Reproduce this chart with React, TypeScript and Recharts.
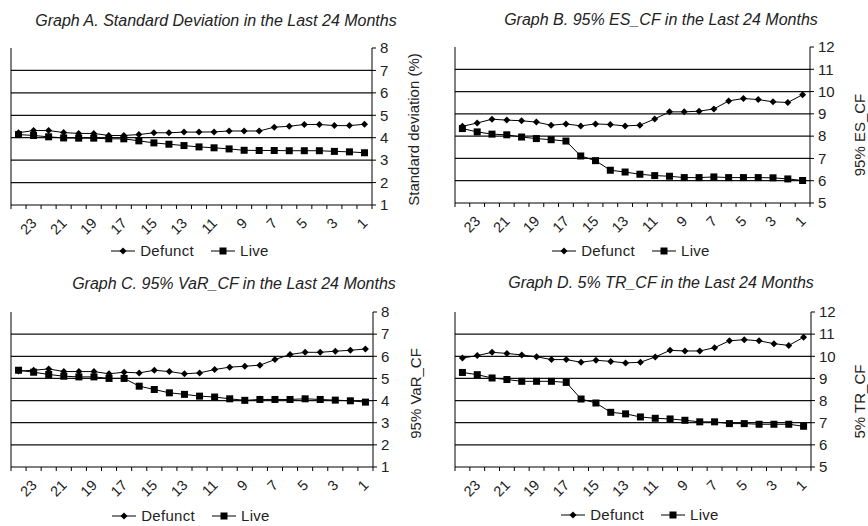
import React from 'react';
import { LineChart, Line, XAxis, YAxis, Legend, Label, ReferenceLine } from 'recharts';

// months counted back from the latest one
const months = ['24', '23', '22', '21', '20', '19', '18', '17', '16', '15', '14', '13', '12', '11', '10', '9', '8', '7', '6', '5', '4', '3', '2', '1'];

const sdDefunct = [4.22, 4.32, 4.32, 4.23, 4.19, 4.19, 4.1, 4.1, 4.14, 4.22, 4.22, 4.25, 4.25, 4.26, 4.3, 4.3, 4.3, 4.47, 4.51, 4.59, 4.59, 4.54, 4.54, 4.6];
const sdLive = [4.14, 4.1, 4.04, 3.99, 3.98, 3.98, 3.95, 3.95, 3.86, 3.77, 3.71, 3.65, 3.59, 3.55, 3.5, 3.44, 3.43, 3.43, 3.42, 3.42, 3.42, 3.39, 3.37, 3.33];

const esDefunct = [8.44, 8.59, 8.76, 8.72, 8.69, 8.63, 8.49, 8.55, 8.46, 8.55, 8.52, 8.46, 8.49, 8.77, 9.09, 9.09, 9.12, 9.22, 9.58, 9.69, 9.64, 9.54, 9.51, 9.86];
const esLive = [8.34, 8.19, 8.09, 8.06, 7.96, 7.89, 7.84, 7.78, 7.11, 6.9, 6.47, 6.39, 6.29, 6.23, 6.2, 6.14, 6.14, 6.17, 6.14, 6.14, 6.14, 6.13, 6.08, 6.01];

const varDefunct = [5.33, 5.37, 5.43, 5.31, 5.31, 5.31, 5.21, 5.28, 5.25, 5.37, 5.31, 5.21, 5.25, 5.4, 5.51, 5.55, 5.6, 5.85, 6.08, 6.18, 6.18, 6.23, 6.27, 6.33];
const varLive = [5.37, 5.28, 5.18, 5.1, 5.07, 5.07, 5.0, 5.0, 4.65, 4.5, 4.35, 4.28, 4.2, 4.16, 4.08, 4.01, 4.05, 4.05, 4.05, 4.08, 4.05, 4.02, 3.99, 3.93];

const trDefunct = [9.92, 10.03, 10.18, 10.13, 10.06, 9.98, 9.85, 9.85, 9.73, 9.82, 9.77, 9.7, 9.73, 9.97, 10.27, 10.24, 10.24, 10.39, 10.7, 10.75, 10.7, 10.57, 10.49, 10.86];
const trLive = [9.27, 9.17, 9.02, 8.95, 8.87, 8.87, 8.87, 8.82, 8.07, 7.89, 7.47, 7.4, 7.26, 7.2, 7.17, 7.11, 7.04, 7.04, 6.96, 6.96, 6.93, 6.93, 6.93, 6.84];

const lowTicks = [1, 2, 3, 4, 5, 6, 7, 8];
const highTicks = [5, 6, 7, 8, 9, 10, 11, 12];

const FONT = '"Liberation Sans", Arial, Helvetica, sans-serif';
const INK = '#222';
const W = 434;
const H = 263;

const Diamond = (props: any) => {
  const { cx, cy, index } = props;
  if (cx == null || cy == null) return null;
  const r = 3.5;
  return <path key={index} d={`M${cx},${cy - r}L${cx + r},${cy}L${cx},${cy + r}L${cx - r},${cy}Z`} fill="#000" />;
};

const Square = (props: any) => {
  const { cx, cy, index } = props;
  if (cx == null || cy == null) return null;
  return <rect key={index} x={cx - 3.5} y={cy - 3.5} width={7} height={7} fill="#000" />;
};

// tick marks sit between months, labels only on odd months
const MonthTick = (props: any) => {
  const { x, y, payload, index, visibleTicksCount, half } = props;
  const odd = Number(payload.value) % 2 === 1;
  const tx = x + 4;
  const ty = y + 19;
  return (
    <g>
      <line x1={x - half} x2={x - half} y1={y} y2={y + 4} stroke="#000" />
      {index === visibleTicksCount - 1 && <line x1={x + half} x2={x + half} y1={y} y2={y + 4} stroke="#000" />}
      {odd && (
        <text x={tx} y={ty} transform={`rotate(-45, ${tx}, ${ty})`} textAnchor="end"
          fontSize={14.5} fill={INK} fontFamily={FONT}>
          {payload.value}
        </text>
      )}
    </g>
  );
};

const axisTitle = (text: string, dx: number, dy: number) => (props: any) => {
  const vb = props.viewBox;
  const cx = vb.x + dx;
  const cy = vb.y + vb.height / 2 + dy;
  return (
    <text x={cx} y={cy} transform={`rotate(-90, ${cx}, ${cy})`} textAnchor="middle" dominantBaseline="central" fontSize={15} fill={INK} fontFamily={FONT}>
      {text}
    </text>
  );
};

const LegendIcon = ({ square }: { square: boolean }) => (
  <svg width={24} height={10} style={{ marginRight: 5 }}>
    <line x1={0} x2={24} y1={5} y2={5} stroke="#000" />
    {square ? <Square cx={12} cy={5} /> : <Diamond cx={12} cy={5} />}
  </svg>
);

const renderLegend = (props: any) => (
  <div style={{ display: 'flex', justifyContent: 'center', alignItems: 'center', gap: 17, fontFamily: FONT, fontSize: 15, letterSpacing: 0.3, color: INK }}>
    {(props.payload || []).map((p: any) => (
      <span key={p.value} style={{ display: 'flex', alignItems: 'center' }}>
        <LegendIcon square={p.dataKey === 'live'} />
        {p.value}
      </span>
    ))}
  </div>
);

interface PanelProps {
  left: number;
  top: number;
  title: string;
  titleX: number;
  titleY: number;
  yLabel: string;
  labelDx: number;
  labelDy: number;
  plot: { l: number; r: number; t: number; b: number };
  ticks: number[];
  defunct: number[];
  live: number[];
  legendX: number;
  legendY: number;
}

const Panel: React.FC<PanelProps> = (p) => {
  const data = months.map((m, i) => ({ month: m, defunct: p.defunct[i], live: p.live[i] }));
  const domain = [p.ticks[0], p.ticks[p.ticks.length - 1]];
  const xAxisHeight = 30;
  const rightWidth = W - p.plot.r;
  const half = (p.plot.r - p.plot.l) / months.length / 2;
  return (
    <div style={{ position: 'absolute', left: p.left, top: p.top, width: W, height: H }}>
      <div
        style={{
          position: 'absolute', left: p.titleX - 220, width: 440, top: p.titleY - 10, textAlign: 'center',
          fontFamily: FONT, fontStyle: 'italic', fontSize: 16, color: INK, lineHeight: '20px', whiteSpace: 'nowrap',
        }}
      >
        {p.title}
      </div>
      <LineChart
        width={W}
        height={H}
        data={data}
        margin={{ top: p.plot.t, left: p.plot.l - 1, right: 0, bottom: H - p.plot.b - xAxisHeight }}
      >
        <XAxis dataKey="month" height={xAxisHeight} interval={0} tickLine={false} tickSize={0} tickMargin={0}
          padding={{ left: half, right: half }} axisLine={{ stroke: '#000' }} tick={<MonthTick half={half} />} />
        <YAxis yAxisId="l" orientation="left" width={1} domain={domain} ticks={p.ticks} tick={false} tickLine={false}
          axisLine={{ stroke: '#000' }} />
        <YAxis yAxisId="r" orientation="right" width={rightWidth} domain={domain} ticks={p.ticks} interval={0}
          tickSize={4} tickMargin={4} tickLine={{ stroke: '#000' }} axisLine={{ stroke: '#000' }}
          tick={{ fontSize: 15, fill: INK, fontFamily: FONT }}>
          <Label content={axisTitle(p.yLabel, p.labelDx, p.labelDy)} />
        </YAxis>
        {p.ticks.slice(1, -1).map((v) => (
          <ReferenceLine key={v} yAxisId="r" y={v} stroke="#111" strokeWidth={1.3} />
        ))}
        <Legend layout="horizontal" verticalAlign="middle" align="center" content={renderLegend}
          wrapperStyle={{ left: p.legendX - 150, width: 300, top: p.legendY - 10, height: 20 }} />
        <Line yAxisId="r" dataKey="defunct" name="Defunct" stroke="#000" strokeWidth={1} dot={<Diamond />}
          activeDot={false} isAnimationActive={false} />
        <Line yAxisId="r" dataKey="live" name="Live" stroke="#000" strokeWidth={1} dot={<Square />}
          activeDot={false} isAnimationActive={false} />
      </LineChart>
    </div>
  );
};

export default function App() {
  return (
    <div style={{ position: 'absolute', left: 0, top: 0, width: 868, height: 526, background: '#fff', overflow: 'hidden' }}>
      <Panel left={0} top={0} title="Graph A. Standard Deviation in the Last 24 Months" titleX={216} titleY={21}
        yLabel="Standard deviation (%)" labelDx={41} labelDy={3} plot={{ l: 11, r: 372, t: 48, b: 205 }}
        ticks={lowTicks} defunct={sdDefunct} live={sdLive} legendX={190} legendY={252} />
      <Panel left={434} top={0} title="Graph B. 95% ES_CF in the Last 24 Months" titleX={227} titleY={20}
        yLabel="95% ES_CF" labelDx={49} labelDy={10} plot={{ l: 21, r: 376, t: 47, b: 203 }}
        ticks={highTicks} defunct={esDefunct} live={esLive} legendX={197} legendY={252} />
      <Panel left={0} top={263} title="Graph C. 95% VaR_CF in the Last 24 Months" titleX={234} titleY={21}
        yLabel="95% VaR_CF" labelDx={42} labelDy={4} plot={{ l: 11, r: 373, t: 49, b: 204 }}
        ticks={lowTicks} defunct={varDefunct} live={varLive} legendX={191} legendY={254} />
      <Panel left={434} top={263} title="Graph D. 5% TR_CF in the Last 24 Months" titleX={227} titleY={20}
        yLabel="5% TR_CF" labelDx={48} labelDy={12} plot={{ l: 21, r: 377, t: 49, b: 204 }}
        ticks={highTicks} defunct={trDefunct} live={trLive} legendX={206} legendY={253} />
    </div>
  );
}
